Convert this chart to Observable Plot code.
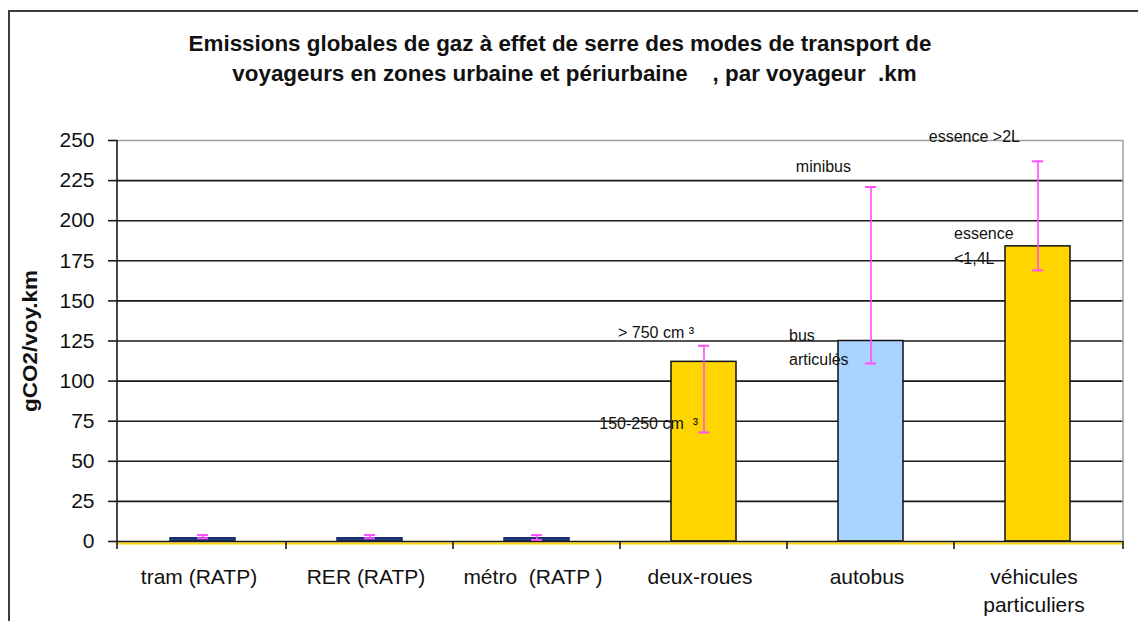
<!DOCTYPE html>
<html><head><meta charset="utf-8">
<script src="https://cdn.jsdelivr.net/npm/d3@7"></script>
<script src="https://cdn.jsdelivr.net/npm/@observablehq/plot@0.6"></script>
<style>
body{margin:0;background:#fff;font-family:"Liberation Sans",Arial,sans-serif;}
#wrap{position:relative;width:1138px;height:621px;overflow:hidden;}
#frame{position:absolute;left:8px;top:10px;width:1200px;height:700px;border-top:2px solid #3c3c3c;border-left:2px solid #3c3c3c;}
.title{position:absolute;left:0;font-weight:bold;font-size:22.4px;white-space:pre;text-align:center;color:#111;}
#chart{position:absolute;left:0;top:0;}
</style></head><body>
<div id="wrap"><div id="frame"></div>
<div class="title" id="t1" style="top:31px;width:1120px;"></div>
<div class="title" id="t2" style="top:61px;width:1149px;"></div>
<div id="chart"></div></div>
<script>
const titleLines = ["Emissions globales de gaz à effet de serre des modes de transport de",
                    "voyageurs en zones urbaine et périurbaine    , par voyageur  .km"];
const yLabel = "gCO2/voy.km";
const categories = ["tram (RATP)", "RER (RATP)", "métro  (RATP )", "deux-roues", "autobus", "véhicules\nparticuliers"];
const values     = [2, 2, 2, 112, 125, 184];
const lowValues  = [2, 2, 1, 68, 111, 169];
const highValues = [4, 4, 4, 122, 221, 237];
const barColors  = ["#1f3d8c", "#1f3d8c", "#1f3d8c", "#ffd500", "#a9d4ff", "#ffd500"];
const yTicks = [0, 25, 50, 75, 100, 125, 150, 175, 200, 225, 250];
const highLabels = ["", "", "", "> 750 cm ³", "minibus", "essence >2L"];
const lowLabels  = ["", "", "", "150-250 cm  ³", "bus\narticulés", "essence\n<1,4L"];

document.getElementById("t1").textContent = titleLines[0];
document.getElementById("t2").textContent = titleLines[1];

const data = categories.map((c, i) => ({
  cat: c, value: values[i], low: lowValues[i], high: highValues[i],
  color: barColors[i], hi: highLabels[i], lo: lowLabels[i]
}));
const byCat = c => data.filter(d => d.cat === c);
const errColor = "#ff4dff";

function frameLines(index, scales, values, dim) {
  const ns = "http://www.w3.org/2000/svg";
  const g = document.createElementNS(ns, "g");
  const x = scales.x, y = scales.y;
  const left = dim.marginLeft, right = dim.width - dim.marginRight;
  const y0 = y(0), yTop = y(250);
  const line = (x1, y1, x2, y2, stroke, w) => {
    const l = document.createElementNS(ns, "line");
    l.setAttribute("x1", x1); l.setAttribute("y1", y1);
    l.setAttribute("x2", x2); l.setAttribute("y2", y2);
    l.setAttribute("stroke", stroke); l.setAttribute("stroke-width", w);
    g.appendChild(l);
  };
  line(right, yTop, right, y0, "#a0a0a0", 1.5);
  line(left, yTop, left, y0 + 8, "#1a1a1a", 1.6);
  categories.slice(1).forEach(c => line(x(c), y0, x(c), y0 + 8, "#1a1a1a", 1.6));
  line(right, y0, right, y0 + 8, "#1a1a1a", 1.6);
  return g;
}

const plot = Plot.plot({
  width: 1138, height: 621,
  marginTop: 140, marginBottom: 80, marginLeft: 117, marginRight: 15,
  style: {fontFamily: '"Liberation Sans", Arial, sans-serif', background: "transparent", color: "#111"},
  x: {domain: categories, padding: 0, axis: null},
  y: {domain: [0, 250], axis: null},
  marks: [
    Plot.ruleY(yTicks.filter(d => d > 0 && d < 250), {stroke: "#1a1a1a", strokeWidth: 1.6}),
    Plot.ruleY([250], {stroke: "#a0a0a0", strokeWidth: 1.5}),
    Plot.ruleY([0], {stroke: "#ffd500", strokeWidth: 2, dy: 2}),
    Plot.barY(data, {x: "cat", y: "value", fill: "color", stroke: d => d.value < 10 ? "#16285a" : "#111", strokeWidth: 1.5, insetLeft: 51, insetRight: 51}),
    Plot.ruleY([0], {stroke: "#1a1a1a", strokeWidth: 1.6}),
    frameLines,
    Plot.ruleX(data, {x: "cat", y1: "low", y2: "high", stroke: errColor, strokeWidth: 1.6}),
    Plot.tickY(data, {x: "cat", y: "high", stroke: errColor, strokeWidth: 2, insetLeft: 78, insetRight: 78}),
    Plot.tickY(data, {x: "cat", y: "low", stroke: errColor, strokeWidth: 2, insetLeft: 78, insetRight: 78}),
    // annotations
    Plot.text(byCat("deux-roues"), {x: "cat", y: "high", text: "hi", textAnchor: "end", lineAnchor: "middle", dx: -10, dy: -13, fontSize: 16, fill: "#111"}),
    Plot.text(byCat("deux-roues"), {x: "cat", y: "low", text: "lo", textAnchor: "end", lineAnchor: "middle", dx: -6, dy: -9, fontSize: 16, fill: "#111"}),
    Plot.text(byCat("autobus"), {x: "cat", y: "high", text: "hi", textAnchor: "end", lineAnchor: "middle", dx: -20, dy: -20, fontSize: 16, fill: "#111"}),
    Plot.text(byCat("autobus"), {x: "cat", y: "low", text: "lo", textAnchor: "start", lineAnchor: "middle", dx: -82, dy: -18, fontSize: 16, lineHeight: 1.5, fill: "#111"}),
    Plot.text(byCat("véhicules\nparticuliers"), {x: "cat", y: "high", text: "hi", textAnchor: "end", lineAnchor: "middle", dx: -18, dy: -24, fontSize: 16, fill: "#111"}),
    Plot.text(byCat("véhicules\nparticuliers"), {x: "cat", y: "low", text: "lo", textAnchor: "start", lineAnchor: "middle", dx: -84, dy: -27, fontSize: 16, lineHeight: 1.55, fill: "#111"}),
    Plot.axisY(yTicks, {tickSize: 9, tickPadding: 14, fontSize: 21, stroke: "#1a1a1a", strokeWidth: 1.6,
      label: yLabel, labelAnchor: "center", labelArrow: "none", labelOffset: 95}),
    Plot.axisX({tickSize: 0, tickPadding: 22, fontSize: 21, lineHeight: 1.35, dx: -4, label: null})
  ]
});
document.getElementById("chart").appendChild(plot);
// bold, slightly stretched y label
plot.querySelectorAll("text").forEach(t => {
  if (t.textContent === yLabel) {
    t.setAttribute("font-weight", "bold");
    t.setAttribute("font-size", 20);
    t.setAttribute("textLength", 142);
    t.setAttribute("lengthAdjust", "spacingAndGlyphs");
  }
});
</script>
</body></html>
